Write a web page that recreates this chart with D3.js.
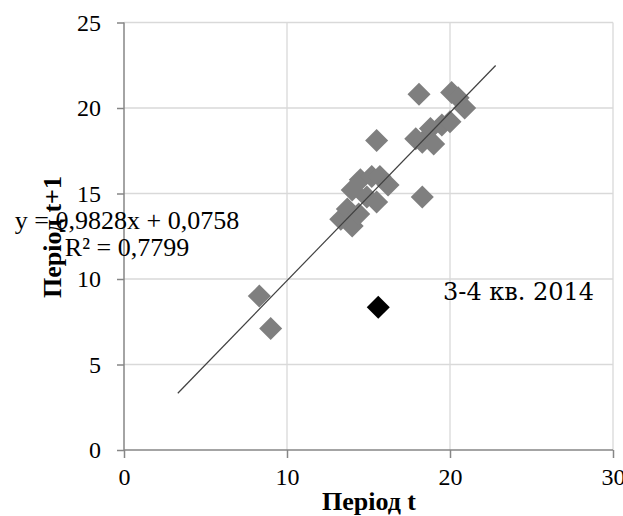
<!DOCTYPE html>
<html>
<head>
<meta charset="utf-8">
<script src="https://cdn.jsdelivr.net/npm/d3@7"></script>
<style>
body{margin:0;background:#fff;}
svg{display:block;}
</style>
</head>
<body>
<script>
// Період t -> Період t+1
var xValues=[8.3,9.0,13.3,13.7,14.0,14.0,14.4,14.5,14.9,15.2,15.5,15.7,16.2,15.5,18.3,18.1,17.9,18.3,18.8,19.0,19.5,20.0,20.1,20.5,20.9];
var yValues=[9.0,7.1,13.5,14.1,13.1,15.2,13.8,15.8,14.8,16.0,14.5,16.0,15.5,18.1,14.8,20.8,18.2,18.0,18.8,17.9,19.0,19.2,20.9,20.6,20.0];
var outlierX=[15.6];
var outlierY=[8.35];
var outlierLabel="3-4 кв. 2014";
var xTicks=[0,10,20,30];
var yTicks=[0,5,10,15,20,25];
var slope=0.9828, intercept=0.0758;
var trendRange=[3.3,22.8];
var eqLines=["y = 0,9828x + 0,0758","R² = 0,7799"];
var xTitle="Період t";
var yTitle="Період t+1";

var width=623;
var height=516;
var plot={left:124,right:613,top:22.5,bottom:450};

var svg=d3.select("body").append("svg").attr("width",width).attr("height",height);

var x=d3.scaleLinear().domain([0,30]).range([plot.left,plot.right]);
var y=d3.scaleLinear().domain([0,25]).range([plot.bottom,plot.top]);

// gridlines
svg.append("g").selectAll("line").data(yTicks.slice(1)).enter().append("line")
    .attr("x1",plot.left).attr("x2",plot.right)
    .attr("y1",function(d){return y(d);}).attr("y2",function(d){return y(d);})
    .attr("stroke","#d9d9d9").attr("stroke-width",1.3);
svg.append("g").selectAll("line").data(xTicks.slice(1)).enter().append("line")
    .attr("y1",plot.top).attr("y2",plot.bottom)
    .attr("x1",function(d){return x(d);}).attr("x2",function(d){return x(d);})
    .attr("stroke","#d9d9d9").attr("stroke-width",1.3);

// axes
var xAxis=svg.append("g").attr("transform","translate(0,"+plot.bottom+")")
    .call(d3.axisBottom(x).tickValues(xTicks).tickSize(8).tickPadding(10));
var yAxis=svg.append("g").attr("transform","translate("+plot.left+",0)")
    .call(d3.axisLeft(y).tickValues(yTicks).tickSize(7).tickPadding(16));
[xAxis,yAxis].forEach(function(a){
    a.select(".domain").attr("stroke","#868686").attr("stroke-width",1.5);
    a.selectAll(".tick line").attr("stroke","#868686").attr("stroke-width",1.5);
    a.selectAll(".tick text").attr("font-family","Liberation Serif").attr("font-size","24px").attr("fill","#000");
});
yAxis.select(".domain").attr("d","M0,"+plot.top+"V"+plot.bottom);
xAxis.select(".domain").attr("d","M"+plot.left+",0H"+plot.right);

// points
var diamond=d3.symbol().type(d3.symbolSquare).size(265);
svg.append("g").selectAll("path").data(xValues).enter().append("path")
    .attr("d",diamond)
    .attr("transform",function(d,i){return "translate("+x(d)+","+y(yValues[i])+") rotate(45)";})
    .attr("fill","#7f7f7f");
svg.append("g").selectAll("path").data(outlierX).enter().append("path")
    .attr("d",diamond)
    .attr("transform",function(d,i){return "translate("+x(d)+","+y(outlierY[i])+") rotate(45)";})
    .attr("fill","#000");

// trendline
svg.append("line")
    .attr("x1",x(trendRange[0])).attr("y1",y(slope*trendRange[0]+intercept))
    .attr("x2",x(trendRange[1])).attr("y2",y(slope*trendRange[1]+intercept))
    .attr("stroke","#404040").attr("stroke-width",1.2);

// titles
svg.append("text").attr("x",369).attr("y",510)
    .attr("text-anchor","middle").attr("font-family","Liberation Serif")
    .attr("font-size","26px").attr("font-weight","bold").text(xTitle);
svg.append("text").attr("transform","translate(61,237) rotate(-90)")
    .attr("text-anchor","middle").attr("font-family","Liberation Serif")
    .attr("font-size","26px").attr("font-weight","bold").text(yTitle);

// equation
svg.append("g").selectAll("text").data(eqLines).enter().append("text")
    .attr("x",127).attr("y",function(d,i){return 229+i*27;})
    .attr("text-anchor","middle").attr("font-family","Liberation Serif")
    .attr("font-size","26px").text(function(d){return d;});

// annotation
svg.append("text").attr("x",443).attr("y",300)
    .attr("font-family","DejaVu Serif").attr("font-size","24px")
    .text(outlierLabel);
</script>
</body>
</html>
